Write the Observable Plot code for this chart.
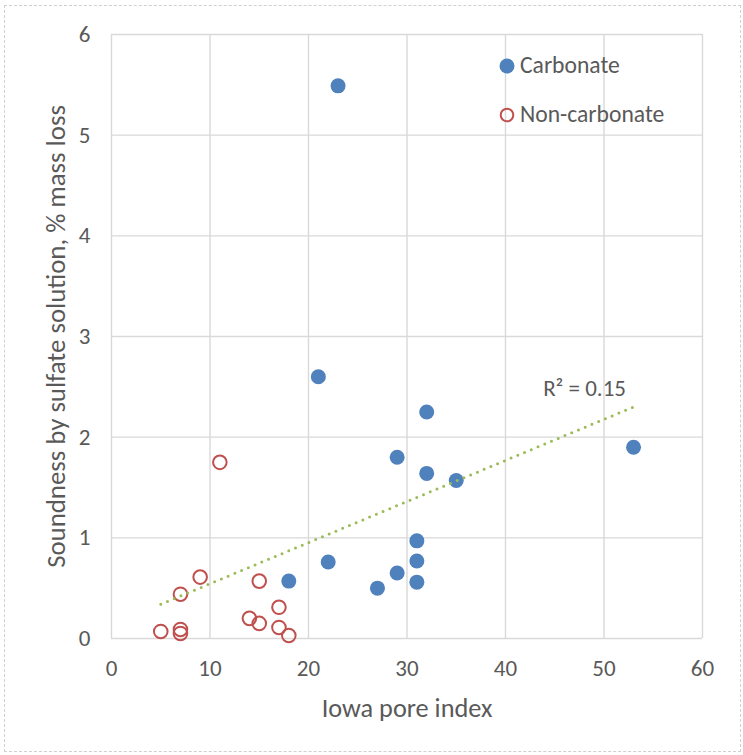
<!DOCTYPE html>
<html>
<head>
<meta charset="utf-8">
<script src="https://cdn.jsdelivr.net/npm/d3@7"></script>
<script src="https://cdn.jsdelivr.net/npm/@observablehq/plot@0.6"></script>
<style>
  body { margin: 0; background: #fff; font-family: Carlito, Calibri, Lato, sans-serif; }
  #wrap { position: relative; width: 743px; height: 755px; overflow: hidden; }
  #frame { position: absolute; left: 4px; top: 5px; width: 735px; height: 745px; border: 1px dashed #d0d0d0; pointer-events: none; }
  #legend { position: absolute; left: 0; top: 0; pointer-events: none; }
</style>
</head>
<body>
<div id="wrap">
  <div id="chart"></div>
  <svg id="legend" width="743" height="160"></svg>
  <div id="frame"></div>
</div>
<script>
// ---- Data ----
const carbonateX = [23, 21, 32, 29, 32, 35, 53, 31, 31, 31, 29, 27, 22, 18];
const carbonateY = [5.49, 2.60, 2.25, 1.80, 1.64, 1.57, 1.90, 0.97, 0.77, 0.56, 0.65, 0.50, 0.76, 0.57];
const nonCarbonateX = [11, 9, 7, 7, 7, 5, 15, 14, 15, 17, 17, 18];
const nonCarbonateY = [1.75, 0.61, 0.44, 0.09, 0.05, 0.07, 0.57, 0.20, 0.15, 0.31, 0.11, 0.03];
const trendX = [5, 53];
const trendY = [0.34, 2.30];
const trendLabel = "R² = 0.15";
const xTicks = [0, 10, 20, 30, 40, 50, 60];
const yTicks = [0, 1, 2, 3, 4, 5, 6];
const seriesNames = ["Carbonate", "Non-carbonate"];
const xTitle = "Iowa pore index";
const yTitle = "Soundness by sulfate solution, % mass loss";

const FONT = "Carlito, Calibri, Lato, sans-serif";
const blue = "#4F81BD", red = "#C0504D", green = "#9BBB59", grid = "#D9D9D9", txt = "#595959";

const carbonate = carbonateX.map((x, i) => ({x, y: carbonateY[i]}));
const nonCarbonate = nonCarbonateX.map((x, i) => ({x, y: nonCarbonateY[i]}));
const trend = trendX.map((x, i) => ({x, y: trendY[i]}));

const chart = Plot.plot({
  width: 743,
  height: 755,
  marginLeft: 111,
  marginRight: 41,
  marginTop: 34,
  marginBottom: 117,
  style: {fontFamily: FONT, fontSize: "23px", color: txt, background: "transparent", overflow: "visible"},
  x: {domain: [0, 60], ticks: xTicks},
  y: {domain: [0, 6], ticks: yTicks},
  marks: [
    Plot.gridX(xTicks, {stroke: grid, strokeOpacity: 1, strokeWidth: 1.4}),
    Plot.gridY(yTicks, {stroke: grid, strokeOpacity: 1, strokeWidth: 1.4}),
    Plot.axisX(xTicks, {tickSize: 0, tickPadding: 21, label: null, fill: txt, fontSize: 23, tickFormat: d => String(d)}),
    Plot.axisY(yTicks, {tickSize: 0, tickPadding: 21, label: null, fill: txt, fontSize: 23, tickFormat: d => String(d)}),
    Plot.dot(carbonate, {x: "x", y: "y", r: 7.5, fill: blue, stroke: "none"}),
    Plot.dot(nonCarbonate, {x: "x", y: "y", r: 6.8, fill: "none", stroke: red, strokeWidth: 2}),
    Plot.line(trend, {x: "x", y: "y", stroke: green, strokeWidth: 3, strokeDasharray: "0 7.3", strokeLinecap: "round"}),
    Plot.text([trend[trend.length - 1]], {x: "x", y: "y", text: () => trendLabel, dx: -49, dy: -18, fontSize: 23, fill: txt, textAnchor: "middle", lineAnchor: "middle"}),
    Plot.text([xTitle], {frameAnchor: "bottom", text: d => d, dy: 70, fontSize: 26.3, fill: txt, textAnchor: "middle", lineAnchor: "middle"}),
    Plot.text([yTitle], {frameAnchor: "left", text: d => d, dx: -55, rotate: -90, fontSize: 26.8, fill: txt, textAnchor: "middle", lineAnchor: "middle"})
  ]
});
document.getElementById("chart").appendChild(chart);

// Legend overlay (inside plot area, top right)
const leg = d3.select("#legend");
const legendRows = [
  {name: seriesNames[0], cy: 66, filled: true},
  {name: seriesNames[1], cy: 115, filled: false}
];
for (const r of legendRows) {
  leg.append("circle")
    .attr("cx", 507).attr("cy", r.cy)
    .attr("r", r.filled ? 7.5 : 6.3)
    .attr("fill", r.filled ? blue : "none")
    .attr("stroke", r.filled ? "none" : red)
    .attr("stroke-width", 2);
  leg.append("text")
    .attr("x", 520).attr("y", r.cy + 7)
    .attr("fill", txt)
    .style("font-family", FONT)
    .style("font-size", "23.6px")
    .text(r.name);
}
</script>
</body>
</html>
